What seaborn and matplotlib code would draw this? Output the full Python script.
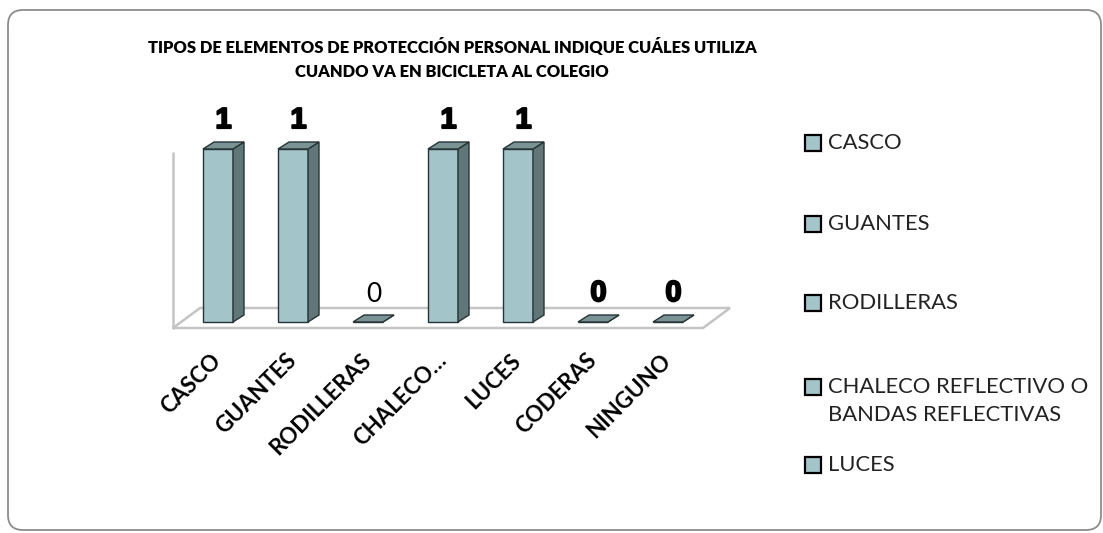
import numpy as np
import pandas as pd
import matplotlib
matplotlib.use('Agg')
import matplotlib.pyplot as plt
import matplotlib.patheffects as pe
import seaborn as sns
from matplotlib.patches import Polygon, Rectangle, FancyBboxPatch
from matplotlib.transforms import IdentityTransform

# Datos del grafico
categorias = ['CASCO', 'GUANTES', 'RODILLERAS', 'CHALECO…', 'LUCES', 'CODERAS', 'NINGUNO']
valores = [1, 1, 0, 1, 1, 0, 0]
etiquetas = ['1', '1', '0', '1', '1', '0', '0']
leyenda = ['CASCO', 'GUANTES', 'RODILLERAS',
           'CHALECO REFLECTIVO O\nBANDAS REFLECTIVAS', 'LUCES']
titulo = ('TIPOS DE ELEMENTOS DE PROTECCIÓN PERSONAL INDIQUE CUÁLES UTILIZA\n'
          'CUANDO VA EN BICICLETA AL COLEGIO')

# Colores
FRENTE = '#a3c4c8'
LADO = '#617678'
ARRIBA = '#7a9496'
BORDE = '#263435'
PISO = '#c4c4c4'

W, H = 1103, 533
sns.set_style('white')
plt.rcParams['font.family'] = ['Lato', 'DejaVu Sans']

fig = plt.figure(figsize=(W / 100, H / 100), dpi=100)
# ejes: 75 px por categoria, 173 px por unidad
ax = fig.add_axes([173 / W, (H - 328) / H, 530 / W, 228 / H])

df = pd.DataFrame({'categoria': categorias, 'valor': valores})
sns.barplot(data=df, x='categoria', y='valor', color=FRENTE, saturation=1,
            width=0.4, edgecolor=BORDE, linewidth=1, ax=ax, zorder=3)
barras = list(ax.patches)

ax.set_xlim(-0.6, -0.6 + 530 / 75)
ax.set_ylim(-6 / 173, 1 + 49 / 173)
y0 = ax.get_ylim()[0]

# profundidad de barras y del piso (unidades de datos)
bdx, bdy = 11 / 75, 7 / 173
fdx, fdy = 27 / 75, 20 / 173

# piso
x0, x1 = ax.get_xlim()
ax.add_patch(Polygon([(x0, y0), (x1, y0), (x1 + fdx, y0 + fdy), (x0 + fdx, y0 + fdy)],
                     closed=True, facecolor='white', edgecolor=PISO, lw=1.8,
                     zorder=1, clip_on=False))
# pared izquierda
ax.plot([x0, x0], [y0, (322 - 153) / 173], color=PISO, lw=1.8, zorder=1, clip_on=False)

# caras laterales y superiores de las barras
for p in barras:
    bx, bw, bh = p.get_x(), p.get_width(), p.get_height()
    ax.add_patch(Polygon([(bx + bw, 0), (bx + bw + bdx, bdy), (bx + bw + bdx, bh + bdy), (bx + bw, bh)],
                         closed=True, facecolor=LADO, edgecolor=BORDE, lw=1, zorder=3, clip_on=False))
    ax.add_patch(Polygon([(bx, bh), (bx + bdx, bh + bdy), (bx + bw + bdx, bh + bdy), (bx + bw, bh)],
                         closed=True, facecolor=ARRIBA, edgecolor=BORDE, lw=1, zorder=3, clip_on=False))

# etiquetas de valor
grueso = [pe.withStroke(linewidth=1.4, foreground='black')]
for i, (v, t) in enumerate(zip(valores, etiquetas)):
    if categorias[i] == 'RODILLERAS':
        ax.annotate(t, (i + bdx / 2, v + bdy), xytext=(0, 9), textcoords='offset points',
                    ha='center', va='baseline', fontsize=19, color='black',
                    annotation_clip=False)
    else:
        ax.annotate(t, (i + bdx / 2, v + bdy), xytext=(0, 10), textcoords='offset points',
                    ha='center', va='baseline', fontsize=21, fontweight='heavy',
                    family='Liberation Sans', color='black', annotation_clip=False,
                    path_effects=grueso)

# ejes
ax.set_xlabel('')
ax.set_ylabel('')
ax.set_yticks([])
ax.set_xticks(range(len(categorias)))
ax.set_xticklabels(categorias, rotation=45, ha='right', va='center',
                   rotation_mode='anchor', fontsize=16, fontweight='bold', color='black')
ax.tick_params(axis='x', length=0, pad=21)
for s in ax.spines.values():
    s.set_visible(False)

# titulo
fig.text(452 / W, 1 - 59 / H, titulo, ha='center', va='center', fontsize=11.9,
         fontweight='heavy', color='black', linespacing=1.6)

# leyenda
ley_y = [143, 224, 303, 387, 465]
for lab, yy in zip(leyenda, ley_y):
    fig.add_artist(Rectangle((805 / W, 1 - (yy + 8) / H), 16 / W, 16 / H,
                             facecolor=FRENTE, edgecolor='black', lw=1.6,
                             transform=fig.transFigure))
    fig.text(828 / W, 1 - (yy - 10) / H, lab, ha='left', va='top', fontsize=15.8,
             color='#222222', linespacing=1.5)

# marco redondeado
fig.add_artist(FancyBboxPatch((8, 3), 1093, 520, boxstyle='round,pad=0,rounding_size=15',
                              facecolor='none', edgecolor='#8c8c8c', lw=1.3,
                              transform=IdentityTransform()))

fig.savefig('out.png', dpi=100)
